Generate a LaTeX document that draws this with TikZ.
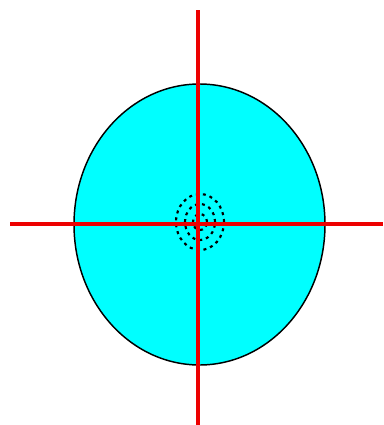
\documentclass[tikz,border=0pt]{standalone}
\usepackage{tikz}
\usetikzlibrary{positioning, shapes.geometric}
\definecolor{discol}{rgb}{0.00, 1.00, 1.00}
\definecolor{crosscol}{rgb}{0.93, 0.00, 0.00}
\tikzset{
  disk/.style={ellipse, draw=black, fill=discol, line width=1.1pt,
               minimum width=188.25pt, minimum height=210.75pt, inner sep=0pt},
  spot/.style={ellipse, draw=black, line width=1.6pt,
               inner sep=0pt, dash pattern=on 2.25pt off 3pt},
  hair/.style={line width=3pt, crosscol},
}
\begin{document}
\begin{tikzpicture}[x=0.75pt, y=-0.75pt]
    \useasboundingbox (0,0) rectangle (383,425);
    \fill[white] (0,0) rectangle (383,425);
    \node[disk] (body) at (199.5,224.5) {};
    \node[spot, minimum width=36pt, minimum height=42pt] (spot_out) at (200,222) {};
    \node[spot, minimum width=22.5pt, minimum height=27pt] (spot_mid) at (200,222) {};
    \node[spot, minimum width=10.5pt, minimum height=12pt] (spot_in) at (200,222) {};

    % cross hair
    \coordinate (top) at (198,10);
    \coordinate (bot) at (198,425);
    \coordinate (lft) at (10,224);
    \coordinate (rgt) at (383,224);
    \draw[hair] (top) -- (bot);
    \draw[hair] (lft) -- (rgt);
\end{tikzpicture}
\end{document}
